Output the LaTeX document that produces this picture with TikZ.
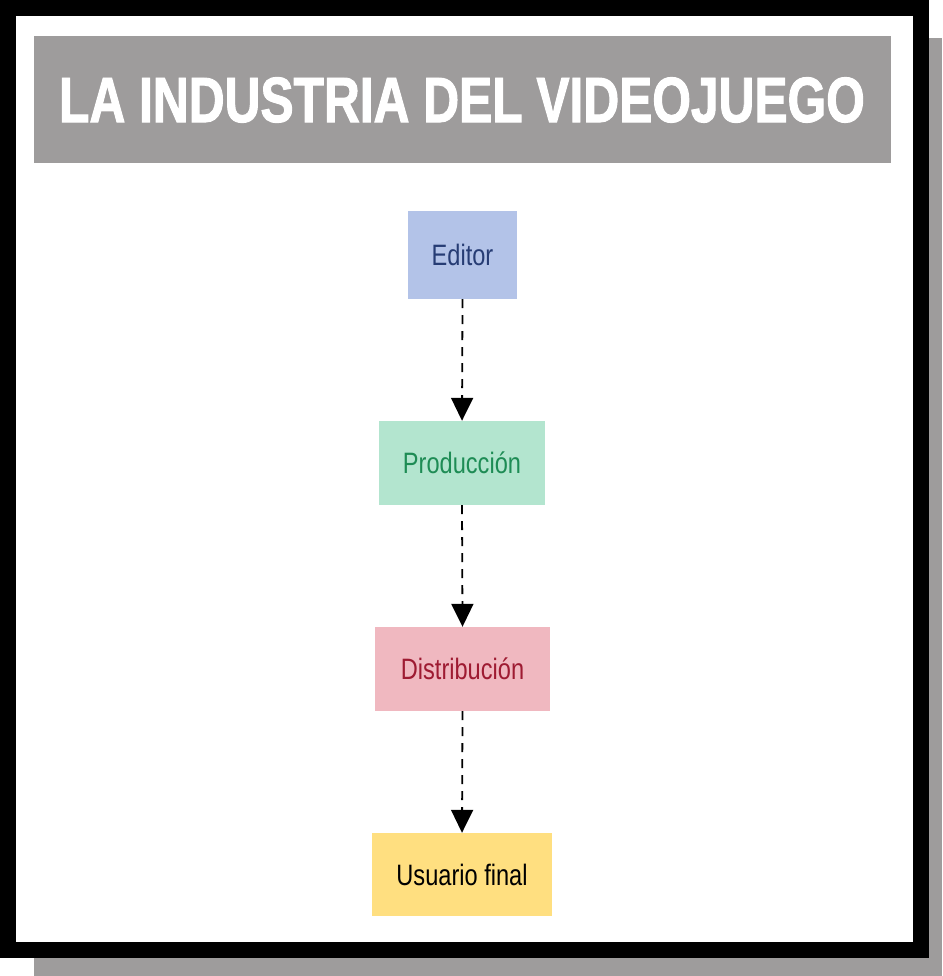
\documentclass[tikz,border=0pt]{standalone}
\usepackage{fontspec}
\setmainfont{Liberation Sans}[FakeStretch=0.8]
\newfontfamily\titlefont{Liberation Sans Bold}[FakeStretch=0.776,FakeBold=1.5]
\usetikzlibrary{arrows.meta}
\definecolor{framegray}{HTML}{9E9C9C}
\definecolor{edfill}{HTML}{B3C3E8}
\definecolor{edtext}{HTML}{263C74}
\definecolor{prfill}{HTML}{B3E5CF}
\definecolor{prtext}{HTML}{1E8C55}
\definecolor{difill}{HTML}{F0B8C0}
\definecolor{ditext}{HTML}{9E1B32}
\definecolor{usfill}{HTML}{FFDF80}
\tikzset{
  box/.style={rectangle, inner sep=0pt, font=\fontsize{29.5}{33}\selectfont},
  flow/.style={draw=black, line width=1.8pt, dash pattern=on 9pt off 7pt,
    -{Triangle[width=22pt,length=23pt]}}
}
\begin{document}
\begin{tikzpicture}[x=1pt,y=-1pt]
\useasboundingbox (0,0) rectangle (942,976);
% shadow and frame
\fill[framegray] (34,38) rectangle (942,976);
\fill[black] (0,0) rectangle (929,958);
\fill[white] (16,16) rectangle (913,942);
% title
\fill[framegray] (34,36) rectangle (891,163);
\node[text=white, inner sep=0pt, font=\titlefont\fontsize{64}{70}\selectfont] (title) at (462,100) {LA INDUSTRIA DEL VIDEOJUEGO};
% nodes
\node[box, fill=edfill, text=edtext, minimum width=109pt, minimum height=88pt] (editor) at (462.5,255) {Editor};
\node[box, fill=prfill, text=prtext, minimum width=166pt, minimum height=84pt] (prod) at (462,463) {Producción};
\node[box, fill=difill, text=ditext, minimum width=175pt, minimum height=84pt] (dist) at (462.5,669) {Distribución};
\node[box, fill=usfill, text=black, minimum width=180pt, minimum height=83pt] (user) at (462,874.5) {Usuario final};
% connectors
\draw[flow] (editor.south) -- (prod.north);
\draw[flow] (prod.south) -- (dist.north);
\draw[flow] (dist.south) -- (user.north);
\end{tikzpicture}
\end{document}
